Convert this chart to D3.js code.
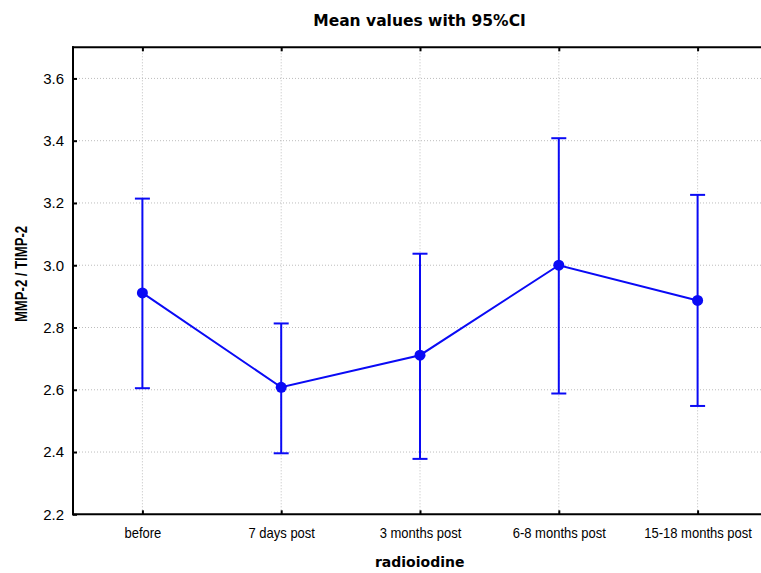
<!DOCTYPE html>
<html>
<head>
<meta charset="utf-8">
<script src="https://cdn.jsdelivr.net/npm/d3@7"></script>
<style>
  html, body { margin: 0; padding: 0; background: #fff; }
  svg { display: block; }
</style>
</head>
<body>
<svg id="chart" width="761" height="573"></svg>
<script>
const categories = ["before", "7 days post", "3 months post", "6-8 months post", "15-18 months post"];
const means = [2.911, 2.608, 2.711, 3.000, 2.887];
const upper = [3.214, 2.813, 3.037, 3.408, 3.226];
const lower = [2.605, 2.396, 2.378, 2.588, 2.548];
const yTicks = [2.2, 2.4, 2.6, 2.8, 3.0, 3.2, 3.4, 3.6];
const yDomain = [2.2, 3.7];

const title = "Mean values with 95%CI";
const xTitle = "radioiodine";
const yTitle = "MMP-2 / TIMP-2";

const svg = d3.select("#chart");
const pLeft = 73, pRight = 767, pTop = 47.3, pBottom = 514.3;
const blue = "#0a0af5";

const x = d3.scalePoint().domain(categories).range([pLeft, pRight]).padding(0.5);
const y = d3.scaleLinear().domain(yDomain).range([pBottom, pTop]);

// grid
const grid = svg.append("g");
grid.selectAll(".gy").data(yTicks.filter(t => t > yDomain[0])).enter().append("line")
  .attr("x1", pLeft).attr("x2", 761).attr("y1", d => y(d)).attr("y2", d => y(d))
  .attr("stroke", "#bdbdbd").attr("stroke-width", 1).attr("stroke-dasharray", "1,2");
grid.selectAll(".gx").data(categories).enter().append("line")
  .attr("x1", d => x(d)).attr("x2", d => x(d)).attr("y1", pTop).attr("y2", pBottom)
  .attr("stroke", "#bdbdbd").attr("stroke-width", 1).attr("stroke-dasharray", "1,2");

// axes
const yAxis = svg.append("g").attr("transform", `translate(${pLeft},0)`)
  .call(d3.axisLeft(y).tickValues(yTicks).tickFormat(d3.format(".1f")).tickSize(-4).tickPadding(9));
const xAxis = svg.append("g").attr("transform", `translate(0,${pBottom})`)
  .call(d3.axisBottom(x).tickSize(-4).tickPadding(14));
const tAxis = svg.append("g").attr("transform", `translate(0,${pTop})`)
  .call(d3.axisTop(x).tickSize(-4).tickFormat(""));
[yAxis, xAxis, tAxis].forEach(a => {
  a.select(".domain").remove();
  a.selectAll(".tick line").attr("stroke", "#000").attr("stroke-width", 2);
});
yAxis.selectAll("text").attr("font-family", "Liberation Sans, Arial, sans-serif").attr("font-size", 15).attr("fill", "#000");
xAxis.selectAll("text").attr("font-family", "Liberation Sans, Arial, sans-serif").attr("font-size", 14)
  .attr("transform", "scale(0.93,1)").attr("fill", "#000");

// frame lines
svg.append("line").attr("x1", pLeft).attr("x2", pLeft).attr("y1", pTop - 1).attr("y2", pBottom + 1)
  .attr("stroke", "#000").attr("stroke-width", 2);
svg.append("line").attr("x1", pLeft - 1).attr("x2", 761).attr("y1", pBottom).attr("y2", pBottom)
  .attr("stroke", "#000").attr("stroke-width", 2);
svg.append("line").attr("x1", pLeft - 1).attr("x2", 761).attr("y1", pTop).attr("y2", pTop)
  .attr("stroke", "#000").attr("stroke-width", 2);

// error bars
const eb = svg.append("g");
categories.forEach((c, i) => {
  eb.append("line").attr("x1", x(c)).attr("x2", x(c)).attr("y1", y(lower[i])).attr("y2", y(upper[i]))
    .attr("stroke", blue).attr("stroke-width", 2);
  [upper[i], lower[i]].forEach(v => {
    eb.append("line").attr("x1", x(c) - 7.5).attr("x2", x(c) + 7.5).attr("y1", y(v)).attr("y2", y(v))
      .attr("stroke", blue).attr("stroke-width", 2);
  });
});

// mean line
const line = d3.line().x((d, i) => x(categories[i])).y(d => y(d));
svg.append("path").datum(means).attr("d", line).attr("fill", "none")
  .attr("stroke", blue).attr("stroke-width", 2);
svg.selectAll(".pt").data(means).enter().append("circle")
  .attr("cx", (d, i) => x(categories[i])).attr("cy", d => y(d)).attr("r", 5.5).attr("fill", blue);

// titles
svg.append("text").attr("x", 419.5).attr("y", 26).attr("text-anchor", "middle")
  .attr("font-family", "DejaVu Sans, Verdana, sans-serif").attr("font-weight", "bold").attr("font-size", 15.5)
  .attr("fill", "#000").text(title);
svg.append("text").attr("x", 419.7).attr("y", 567).attr("text-anchor", "middle")
  .attr("font-family", "DejaVu Sans, Verdana, sans-serif").attr("font-weight", "bold").attr("font-size", 14)
  .attr("fill", "#000").text(xTitle);
svg.append("text").attr("transform", "translate(27,274) rotate(-90) scale(0.82,1)").attr("text-anchor", "middle")
  .attr("font-family", "Liberation Sans, Arial, sans-serif").attr("font-weight", "bold").attr("font-size", 16)
  .attr("fill", "#000").text(yTitle);
</script>
</body>
</html>
